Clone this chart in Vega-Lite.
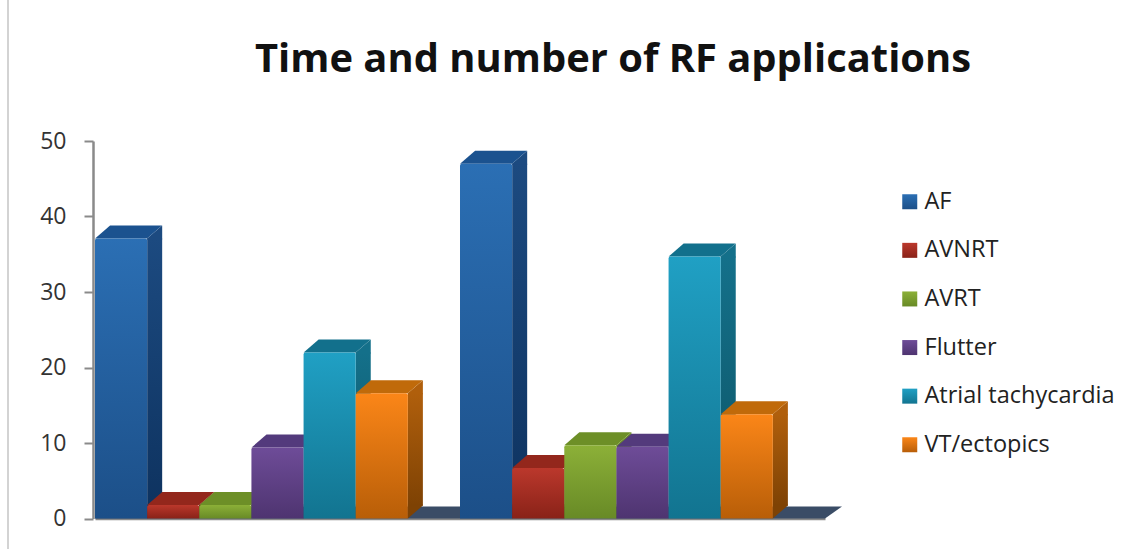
{
  "$schema": "https://vega.github.io/schema/vega-lite/v6.json",
  "width": 730,
  "height": 377.5,
  "autosize": {"type": "none"},
  "padding": {"left": 95, "top": 141, "right": 296, "bottom": 30.5},
  "background": "white",
  "title": {
    "text": "Time and number of RF applications",
    "font": "Open Sans",
    "fontWeight": "bold",
    "fontSize": 39.9,
    "color": "#111111",
    "anchor": "start",
    "frame": "group",
    "dx": 160,
    "dy": 113,
    "offset": 0,
    "baseline": "alphabetic"
  },
  "config": {
    "view": {"stroke": null},
    "font": "Open Sans",
    "axis": {"grid": false}
  },
  "datasets": {
    "rf": [
      {"measure": "Time", "arrhythmia": "AF", "value": 37.1},
      {"measure": "Time", "arrhythmia": "AVNRT", "value": 1.8},
      {"measure": "Time", "arrhythmia": "AVRT", "value": 1.8},
      {"measure": "Time", "arrhythmia": "Flutter", "value": 9.4},
      {"measure": "Time", "arrhythmia": "Atrial tachycardia", "value": 22},
      {"measure": "Time", "arrhythmia": "VT/ectopics", "value": 16.6},
      {"measure": "Number", "arrhythmia": "AF", "value": 47},
      {"measure": "Number", "arrhythmia": "AVNRT", "value": 6.7},
      {"measure": "Number", "arrhythmia": "AVRT", "value": 9.7},
      {"measure": "Number", "arrhythmia": "Flutter", "value": 9.5},
      {"measure": "Number", "arrhythmia": "Atrial tachycardia", "value": 34.7},
      {"measure": "Number", "arrhythmia": "VT/ectopics", "value": 13.8}
    ],
    "floor": [{"level": 0}]
  },
  "resolve": {"scale": {"color": "independent", "xOffset": "independent"}},
  "layer": [
    {
      "description": "Sheet edge on the left",
      "data": {"name": "floor"},
      "mark": {"type": "rule", "color": "#c4c4c4", "strokeWidth": 1.5, "clip": false},
      "encoding": {
        "x": {"value": -87},
        "y": {"value": -141},
        "y2": {"value": 408}
      }
    },
    {
      "description": "Chart floor receding behind the bars",
      "data": {"name": "floor"},
      "mark": {"type": "point", "filled": true, "opacity": 1, "size": 4, "color": "#3a4c66", "shape": "M0 0 L730 0 L747 -12 L17 -12 Z"},
      "encoding": {
        "x": {"value": 0},
        "y": {
          "field": "level",
          "type": "quantitative",
          "scale": {"domain": [0, 50]},
          "axis": {
            "values": [0, 10, 20, 30, 40, 50],
            "title": null,
            "offset": 2,
            "domainColor": "#8a8a8a",
            "domainWidth": 2.5,
            "tickColor": "#8a8a8a",
            "tickWidth": 2,
            "tickSize": 9,
            "labelFont": "Open Sans",
            "labelFontSize": 23,
            "labelColor": "#333333",
            "labelPadding": 18
          }
        }
      }
    },
    {
      "description": "Side faces of the columns, on a band scale shifted past each front face",
      "data": {"name": "rf"},
      "mark": {"type": "bar", "width": 15, "y2Offset": -13},
      "encoding": {
        "x": {
          "field": "measure",
          "type": "nominal",
          "sort": ["Time", "Number"],
          "scale": {"paddingInner": 0, "paddingOuter": 0},
          "axis": {"title": null, "labels": false, "ticks": false, "domainColor": "#8a8a8a", "domainWidth": 2.5}
        },
        "xOffset": {
          "field": "arrhythmia",
          "type": "nominal",
          "scale": {
            "type": "band",
            "domain": ["AF", "AVNRT", "AVRT", "Flutter", "Atrial tachycardia", "VT/ectopics"],
            "range": [33.6, 398.6],
            "paddingInner": 0,
            "paddingOuter": 0.5,
            "align": 0
          }
        },
        "y": {"field": "value", "type": "quantitative", "stack": null},
        "y2": {"datum": 0},
        "color": {
          "field": "arrhythmia",
          "type": "nominal",
          "legend": null,
          "scale": {
            "domain": ["AF", "AVNRT", "AVRT", "Flutter", "Atrial tachycardia", "VT/ectopics"],
            "range": [
              {"expr": "{gradient:'linear',x1:0,y1:0,x2:0,y2:1,stops:[{offset:0,color:'#1c4a80'},{offset:1,color:'#0e3360'}]}"},
              {"expr": "{gradient:'linear',x1:0,y1:0,x2:0,y2:1,stops:[{offset:0,color:'#8a2a20'},{offset:1,color:'#6e1d16'}]}"},
              {"expr": "{gradient:'linear',x1:0,y1:0,x2:0,y2:1,stops:[{offset:0,color:'#6a8a28'},{offset:1,color:'#54701e'}]}"},
              {"expr": "{gradient:'linear',x1:0,y1:0,x2:0,y2:1,stops:[{offset:0,color:'#50387a'},{offset:1,color:'#3c2858'}]}"},
              {"expr": "{gradient:'linear',x1:0,y1:0,x2:0,y2:1,stops:[{offset:0,color:'#14708a'},{offset:1,color:'#0d5668'}]}"},
              {"expr": "{gradient:'linear',x1:0,y1:0,x2:0,y2:1,stops:[{offset:0,color:'#b05f0c'},{offset:1,color:'#7e4204'}]}"}
            ]
          }
        }
      }
    },
    {
      "description": "Upper corner of each side face",
      "data": {"name": "rf"},
      "mark": {"type": "point", "filled": true, "opacity": 1, "size": 4, "shape": "M26 0 L41.1 -13 L41.1 1 L26 1 Z"},
      "encoding": {
        "x": {"field": "measure", "type": "nominal", "sort": ["Time", "Number"]},
        "xOffset": {
          "field": "arrhythmia",
          "type": "nominal",
          "scale": {
            "type": "band",
            "domain": ["AF", "AVNRT", "AVRT", "Flutter", "Atrial tachycardia", "VT/ectopics"],
            "paddingInner": 0,
            "paddingOuter": 0.5,
            "align": 0
          }
        },
        "y": {"field": "value", "type": "quantitative", "stack": null},
        "color": {
          "field": "arrhythmia",
          "type": "nominal",
          "legend": null,
          "scale": {
            "domain": ["AF", "AVNRT", "AVRT", "Flutter", "Atrial tachycardia", "VT/ectopics"],
            "range": ["#1c4a80", "#8a2a20", "#6a8a28", "#50387a", "#14708a", "#b05f0c"]
          }
        }
      }
    },
    {
      "description": "Lower corner of each side face",
      "data": {"name": "rf"},
      "mark": {"type": "point", "filled": true, "opacity": 1, "size": 4, "shape": "M26 -14 L41.1 -14 L41.1 -13 L26 0 Z"},
      "encoding": {
        "x": {"field": "measure", "type": "nominal", "sort": ["Time", "Number"]},
        "xOffset": {
          "field": "arrhythmia",
          "type": "nominal",
          "scale": {
            "type": "band",
            "domain": ["AF", "AVNRT", "AVRT", "Flutter", "Atrial tachycardia", "VT/ectopics"],
            "paddingInner": 0,
            "paddingOuter": 0.5,
            "align": 0
          }
        },
        "y": {"datum": 0},
        "color": {
          "field": "arrhythmia",
          "type": "nominal",
          "legend": null,
          "scale": {
            "domain": ["AF", "AVNRT", "AVRT", "Flutter", "Atrial tachycardia", "VT/ectopics"],
            "range": ["#0e3360", "#6e1d16", "#54701e", "#3c2858", "#0d5668", "#7e4204"]
          }
        }
      }
    },
    {
      "description": "Top faces of the columns",
      "data": {"name": "rf"},
      "mark": {"type": "point", "filled": true, "opacity": 1, "size": 4, "shape": "M-26 0 L-11 -13 L41 -13 L26 0 Z"},
      "encoding": {
        "x": {"field": "measure", "type": "nominal", "sort": ["Time", "Number"]},
        "xOffset": {
          "field": "arrhythmia",
          "type": "nominal",
          "scale": {
            "type": "band",
            "domain": ["AF", "AVNRT", "AVRT", "Flutter", "Atrial tachycardia", "VT/ectopics"],
            "paddingInner": 0,
            "paddingOuter": 0.5,
            "align": 0
          }
        },
        "y": {"field": "value", "type": "quantitative", "stack": null},
        "color": {
          "field": "arrhythmia",
          "type": "nominal",
          "legend": null,
          "scale": {
            "domain": ["AF", "AVNRT", "AVRT", "Flutter", "Atrial tachycardia", "VT/ectopics"],
            "range": ["#1b528f", "#93271c", "#6d8f27", "#533a7c", "#12708c", "#c06a0a"]
          }
        }
      }
    },
    {
      "description": "Front faces of the columns, with the legend",
      "data": {"name": "rf"},
      "mark": {"type": "bar", "cornerRadiusTopLeft": 2, "cornerRadiusTopRight": 2},
      "encoding": {
        "x": {"field": "measure", "type": "nominal", "sort": ["Time", "Number"]},
        "xOffset": {
          "field": "arrhythmia",
          "type": "nominal",
          "scale": {
            "type": "band",
            "domain": ["AF", "AVNRT", "AVRT", "Flutter", "Atrial tachycardia", "VT/ectopics"],
            "paddingInner": 0,
            "paddingOuter": 0.5,
            "align": 0
          }
        },
        "y": {"field": "value", "type": "quantitative", "stack": null},
        "color": {
          "field": "arrhythmia",
          "type": "nominal",
          "scale": {
            "domain": ["AF", "AVNRT", "AVRT", "Flutter", "Atrial tachycardia", "VT/ectopics"],
            "range": [
              {"expr": "{gradient:'linear',x1:0,y1:0,x2:0,y2:1,stops:[{offset:0,color:'#2b6fb4'},{offset:1,color:'#1c4f88'}]}"},
              {"expr": "{gradient:'linear',x1:0,y1:0,x2:0,y2:1,stops:[{offset:0,color:'#bb382c'},{offset:1,color:'#892218'}]}"},
              {"expr": "{gradient:'linear',x1:0,y1:0,x2:0,y2:1,stops:[{offset:0,color:'#8cb038'},{offset:1,color:'#688a26'}]}"},
              {"expr": "{gradient:'linear',x1:0,y1:0,x2:0,y2:1,stops:[{offset:0,color:'#6e4c98'},{offset:1,color:'#4e3470'}]}"},
              {"expr": "{gradient:'linear',x1:0,y1:0,x2:0,y2:1,stops:[{offset:0,color:'#20a0c4'},{offset:1,color:'#127490'}]}"},
              {"expr": "{gradient:'linear',x1:0,y1:0,x2:0,y2:1,stops:[{offset:0,color:'#fb8618'},{offset:1,color:'#b85e08'}]}"}
            ]
          },
          "legend": {
            "title": null,
            "orient": "none",
            "legendX": 803,
            "legendY": 49,
            "symbolType": "square",
            "symbolSize": 225,
            "symbolStrokeWidth": 0,
            "labelFont": "Open Sans",
            "labelFontSize": 23.5,
            "labelColor": "#222222",
            "labelOffset": 3,
            "labelLimit": 260,
            "rowPadding": 23.6
          }
        }
      }
    }
  ]
}
